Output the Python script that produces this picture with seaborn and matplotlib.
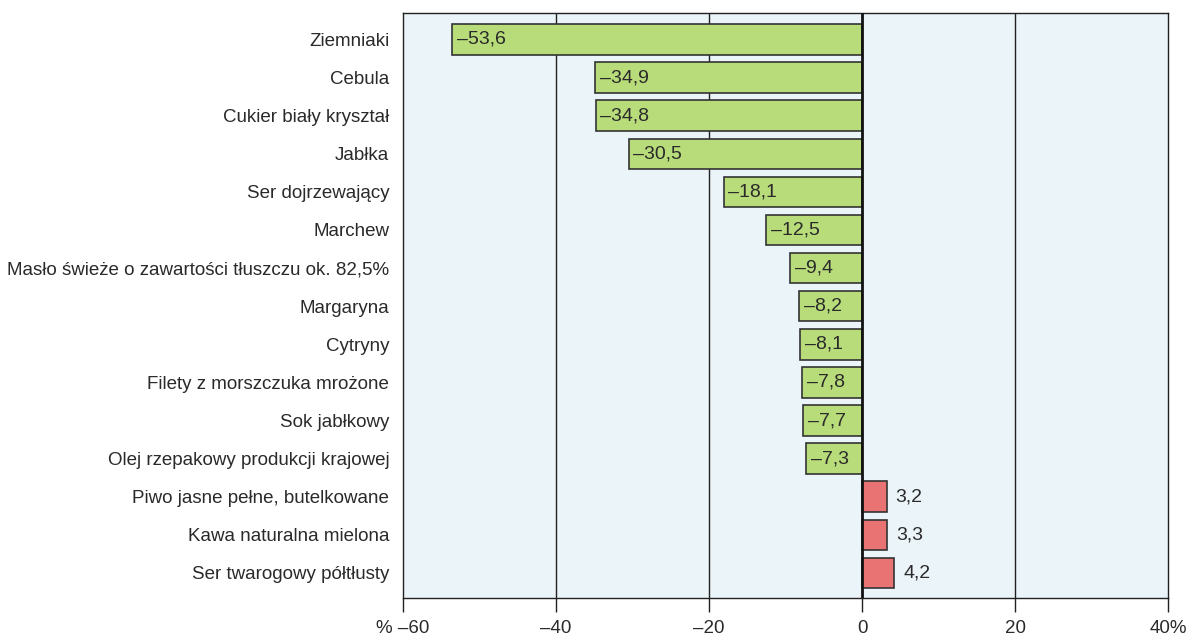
import pandas as pd
import seaborn as sns
import matplotlib.pyplot as plt

# Dane
produkty = ['Ziemniaki', 'Cebula', 'Cukier biały kryształ', 'Jabłka', 'Ser dojrzewający',
            'Marchew', 'Masło świeże o zawartości tłuszczu ok. 82,5%', 'Margaryna', 'Cytryny',
            'Filety z morszczuka mrożone', 'Sok jabłkowy', 'Olej rzepakowy produkcji krajowej',
            'Piwo jasne pełne, butelkowane', 'Kawa naturalna mielona', 'Ser twarogowy półtłusty']
zmiana = [-53.6, -34.9, -34.8, -30.5, -18.1, -12.5, -9.4, -8.2, -8.1, -7.8, -7.7, -7.3, 3.2, 3.3, 4.2]
x_ticks = [-60, -40, -20, 0, 20, 40]
x_tick_labels = ['% –60', '–40', '–20', '0', '20', '40%']

df = pd.DataFrame({'produkt': produkty, 'zmiana': zmiana})
df['znak'] = ['spadek' if v < 0 else 'wzrost' for v in zmiana]

sns.set_theme(style='white')
plt.rcParams['font.family'] = ['Liberation Sans', 'DejaVu Sans']

fig = plt.figure(figsize=(11.96, 6.39), dpi=100)
ax = fig.add_axes([0.337, 0.064, 0.6396, 0.916])
ax.set_facecolor('#ebf4f9')

sns.barplot(data=df, x='zmiana', y='produkt', hue='znak', orient='h',
            palette={'spadek': '#b8dc7a', 'wzrost': '#e97272'}, saturation=1,
            width=0.8, dodge=False, legend=False, edgecolor='#333333', linewidth=1.2, ax=ax, zorder=3)

for x in [-40, -20, 20]:
    ax.axvline(x, color='#222222', lw=1, zorder=1)
ax.axvline(0, color='#111111', lw=2, zorder=4)

# etykiety wartości
for i, v in enumerate(zmiana):
    txt = f'{v:.1f}'.replace('.', ',').replace('-', '–')
    if v < 0:
        ax.text(v + 0.6, i, txt, va='center', ha='left', fontsize=14, color='#2a2a2a', zorder=5)
    else:
        ax.text(v + 1.2, i, txt, va='center', ha='left', fontsize=14, color='#2a2a2a', zorder=5)

ax.set_xlim(-60, 40)
ax.set_ylim(14.66, -0.7)
ax.set_xticks(x_ticks)
ax.set_xticklabels(x_tick_labels, fontsize=13.5, color='#2a2a2a')
ax.tick_params(axis='x', direction='out', length=10, width=1, color='#222222', pad=6, bottom=True)
ax.tick_params(axis='y', length=0, labelsize=13.5, labelcolor='#2a2a2a', pad=10)
ax.set_xlabel('')
ax.set_ylabel('')
for s in ax.spines.values():
    s.set_color('#222222')
    s.set_linewidth(1)

fig.savefig('out.png', dpi=100)
